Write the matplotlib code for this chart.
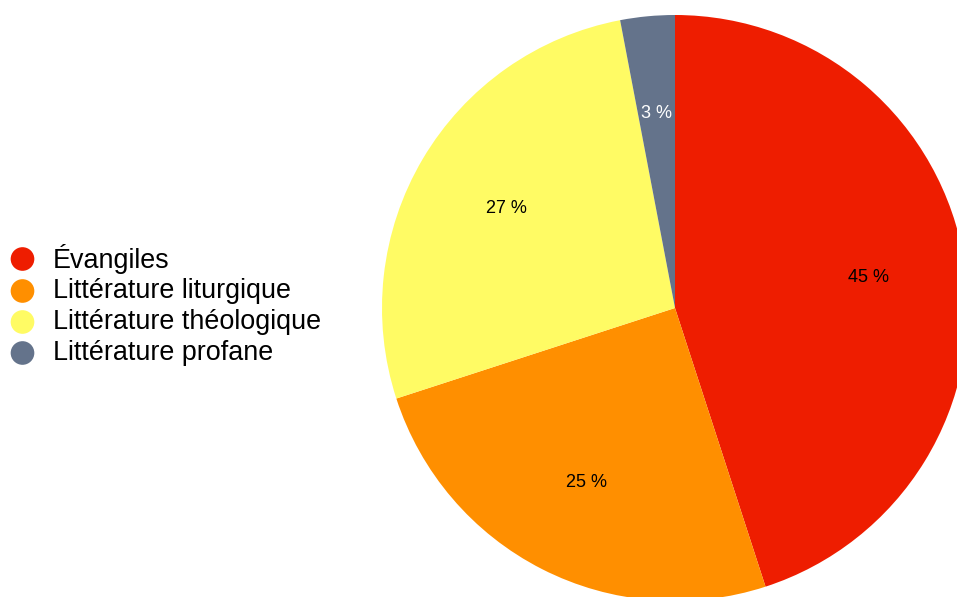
import matplotlib.pyplot as plt

plt.rcParams['font.family'] = ['Liberation Sans', 'DejaVu Sans']

# Répartition des manuscrits par genre
categories = ["Évangiles", "Littérature liturgique", "Littérature théologique", "Littérature profane"]
valeurs = [45, 25, 27, 3]
couleurs = ["#EE1D00", "#FF8F00", "#FFFB64", "#64738B"]
couleurs_texte = ["black", "black", "black", "white"]

W, H = 957, 597
fig = plt.figure(figsize=(W / 100, H / 100), dpi=100)
ax = fig.add_axes([0, 0, 1, 1])

wedges, textes, pcts = ax.pie(
    valeurs, colors=couleurs, startangle=90, counterclock=False,
    center=(675, H - 308), radius=293, frame=True,
    autopct=lambda p: f"{p:.0f} %", pctdistance=0.667,
    textprops={"fontsize": 13},
)
ax.set_xlim(0, W)
ax.set_ylim(0, H)
ax.axis("off")
for t, c in zip(pcts, couleurs_texte):
    t.set_color(c)

# légende dessinée à gauche
lignes_y = [259, 291, 322, 353]
for nom, coul, y in zip(categories, couleurs, lignes_y):
    ax.scatter(22.5, H - y, s=290, color=coul, edgecolors="none")
    ax.text(53, H - y, nom, fontsize=19.4, va="center", ha="left")

fig.savefig("out.png", dpi=100)
